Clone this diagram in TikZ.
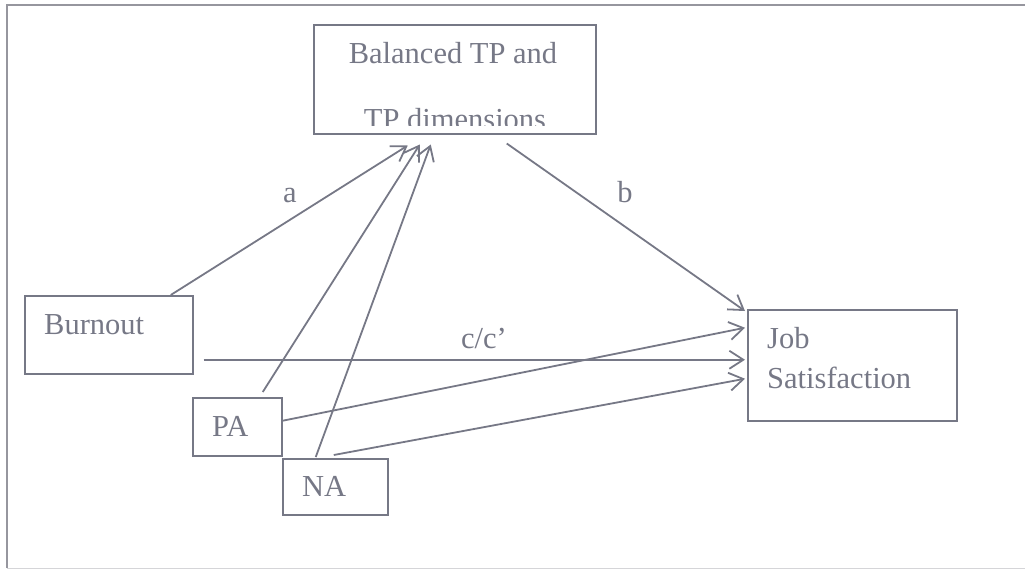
\documentclass[tikz,border=0pt]{standalone}
\usepackage{fontspec}
\setmainfont{Liberation Serif}
\usetikzlibrary{arrows.meta,calc}
\definecolor{ink}{RGB}{118,120,134}
\definecolor{frame}{RGB}{150,150,158}
\begin{document}
\begin{tikzpicture}[x=1pt,y=-1pt,
  box/.style={draw=ink,line width=1.5pt,inner sep=0pt,anchor=north west},
  lbl/.style={text=ink,font=\fontsize{30.5}{30}\selectfont,inner sep=0pt,anchor=base west},
  clbl/.style={lbl,anchor=base},
  arr/.style={draw=ink,line width=1.8pt,-{Straight Barb[length=14pt,width=18pt,line width=1.8pt]}},
]
\useasboundingbox (0,0) rectangle (1025,571);
% outer frame
\draw[frame,line width=1.5pt] (7,568) -- (7,5) -- (1025,5);
\draw[frame!40,line width=1pt] (7,568) -- (1025,568);

% boxes
\node[box,minimum width=282pt,minimum height=109pt] (tp) at (313,24) {};
\node[box,minimum width=168pt,minimum height=78pt] (burn) at (24,295) {};
\node[box,minimum width=89pt,minimum height=58pt] (pa) at (192,397) {};
\node[box,minimum width=105pt,minimum height=56pt] (na) at (282,458) {};
\node[box,minimum width=209pt,minimum height=111pt] (job) at (747,309) {};

% texts
\node[clbl] (tpl1) at (453,63) {Balanced TP and};
\begin{scope}
  \clip (313,90) rectangle (595,125);
  \node[clbl] (tpl2) at (455,129) {TP dimensions};
\end{scope}
\node[lbl] (burnl) at (44,334) {Burnout};
\node[lbl] (pal) at (212,436) {PA};
\node[lbl] (nal) at (302,496) {NA};
\node[lbl] (jobl1) at (767,348) {Job};
\node[lbl] (jobl2) at (767,388) {Satisfaction};

% path labels
\node[clbl] (la) at (290,202) {a};
\node[clbl] (lb) at (625,202) {b};
\node[clbl] (lc) at (484,348) {c/c’};

% connectors
\draw[arr] ([xshift=62pt]burn.north) -- ([xshift=-47pt,yshift=-11pt]tp.south);
\draw[arr] ([xshift=25.5pt,yshift=5pt]pa.north) -- ([xshift=-35pt,yshift=-10pt]tp.south);
\draw[arr] ([xshift=-19.5pt,yshift=1pt]na.north) -- ([xshift=-24pt,yshift=-10pt]tp.south);
\draw[arr] ([xshift=52pt,yshift=-9pt]tp.south) -- ([xshift=-2pt,yshift=-2pt]job.north west);
\draw[arr] ([xshift=10pt,yshift=-25pt]burn.east) -- ([xshift=-2pt,yshift=5.5pt]job.west);
\draw[arr] ([yshift=6pt]pa.east) -- ([xshift=-2pt,yshift=37.5pt]job.west);
\draw[arr] ([xshift=-1.5pt,yshift=3pt]na.north) -- ([xshift=-2pt,yshift=-13.5pt]job.west);
\end{tikzpicture}
\end{document}
